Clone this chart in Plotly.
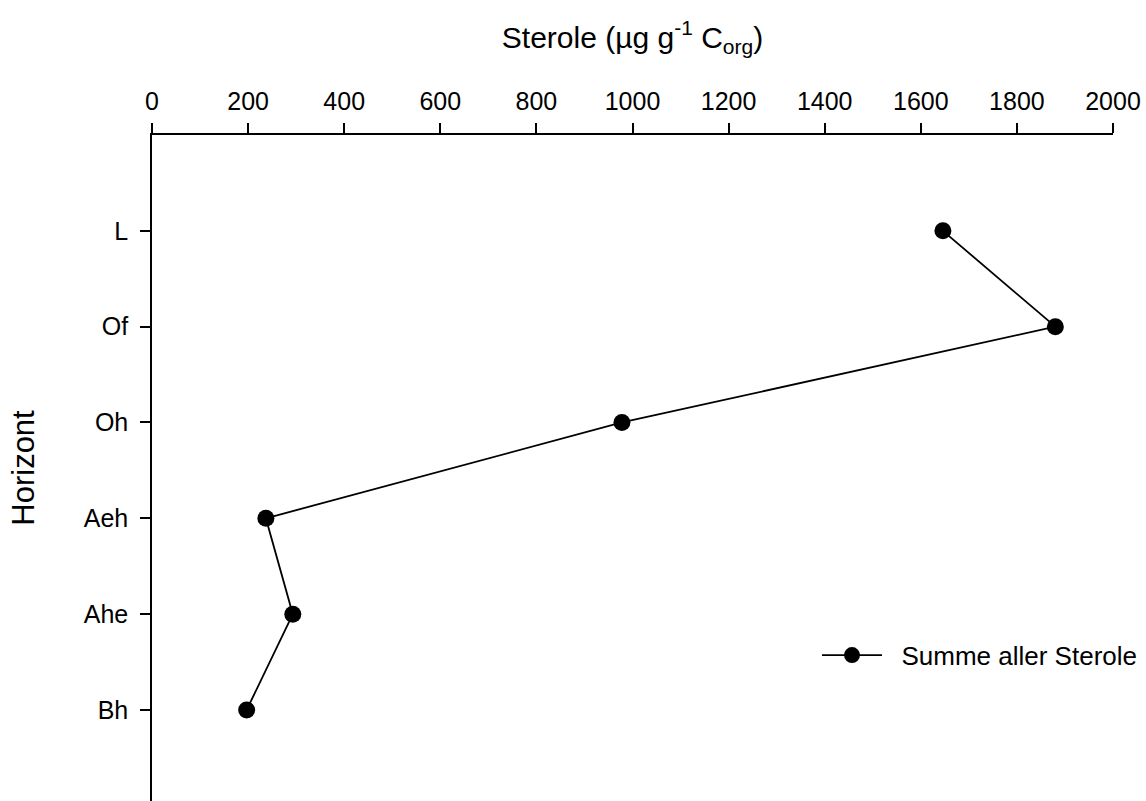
import plotly.graph_objects as go

horizons = ["L", "Of", "Oh", "Aeh", "Ahe", "Bh"]
sterole_sum = [1646, 1880, 978, 237, 293, 197]
x_ticks = [0, 200, 400, 600, 800, 1000, 1200, 1400, 1600, 1800, 2000]

FONT = "Arial, Liberation Sans, sans-serif"

fig = go.Figure()
fig.add_trace(go.Scatter(
    x=sterole_sum, y=horizons, mode="lines+markers",
    name="\u00a0\u00a0Summe aller Sterole",
    line=dict(color="black", width=1.8),
    marker=dict(color="black", size=17),
))

fig.update_layout(
    width=1146, height=801,
    margin=dict(l=152, r=33, t=135, b=0),
    paper_bgcolor="white", plot_bgcolor="white",
    font=dict(family=FONT, color="black", size=25),
    showlegend=True,
    legend=dict(x=0.692, y=0.219, xanchor="left", yanchor="middle",
                font=dict(size=26), itemwidth=60, bgcolor="rgba(0,0,0,0)"),
    xaxis=dict(
        side="top", range=[0, 2000], tickvals=x_ticks,
        ticks="outside", ticklen=10, tickwidth=1.5, tickcolor="black",
        showline=True, linecolor="black", linewidth=1.5,
        showgrid=False, zeroline=False,
        ticklabelstandoff=3,
        tickfont=dict(size=25),
        title=dict(text="Sterole (µg g<sup>-1</sup> C<sub>org</sub>)",
                   font=dict(size=30), standoff=30),
    ),
    yaxis=dict(
        type="category", categoryorder="array", categoryarray=horizons,
        range=[5.95, -1],
        ticks="outside", ticklen=10, tickwidth=1.5, tickcolor="black",
        showline=True, linecolor="black", linewidth=1.5,
        showgrid=False, zeroline=False,
        ticklabelstandoff=7,
        tickfont=dict(size=25),
        title=dict(text="Horizont", font=dict(size=31), standoff=40),
    ),
)

fig.write_html("out.html")
